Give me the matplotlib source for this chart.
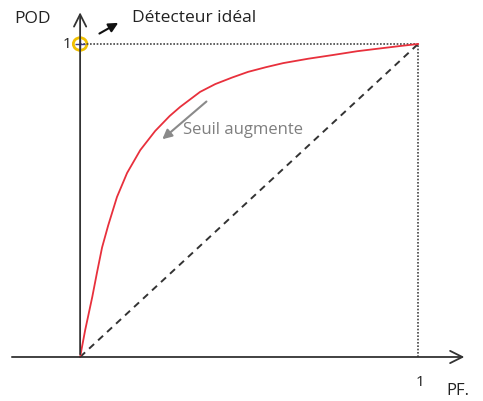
import matplotlib.pyplot as plt
from matplotlib.patches import Circle

# ROC curve (PF, POD)
pf = [0, 0.015, 0.036, 0.050, 0.065, 0.083, 0.109, 0.139, 0.178, 0.222, 0.265, 0.296,
      0.355, 0.40, 0.45, 0.497, 0.55, 0.601, 0.675, 0.749, 0.82, 0.896, 0.95, 1.0]
pod = [0, 0.086, 0.192, 0.270, 0.350, 0.420, 0.511, 0.588, 0.661, 0.722, 0.770, 0.799,
       0.847, 0.872, 0.893, 0.911, 0.926, 0.939, 0.953, 0.965, 0.977, 0.987, 0.994, 1.0]
diag = [0, 1]

fig = plt.figure(figsize=(4.83, 4.01), dpi=100)
ax = fig.add_axes([0, 0, 1, 1])
ax.set_xlim(-0.237, 1.192)
ax.set_ylim(-0.1406, 1.1406)
ax.axis('off')

font = 'Open Sans'

# axes with open arrow heads
ax.annotate('', xy=(1.145, 0), xytext=(-0.21, 0),
            arrowprops=dict(arrowstyle='->', color='#333333', lw=1.3, mutation_scale=22))
ax.annotate('', xy=(0, 1.11), xytext=(0, 0),
            arrowprops=dict(arrowstyle='->', color='#333333', lw=1.3, mutation_scale=22))

# dotted frame to (1,1)
ax.plot([0, 1], [1, 1], color='#444444', lw=1.2, linestyle=(0, (1, 1)))
ax.plot([1, 1], [0, 1], color='#444444', lw=1.2, linestyle=(0, (1, 1)))

# diagonal
ax.plot(diag, diag, color='#333333', lw=1.4, linestyle=(0, (3.5, 2.8)))

# ROC curve
ax.plot(pf, pod, color='#e8303c', lw=1.3, solid_joinstyle='round')

# ideal detector
ax.add_patch(Circle((0, 1), 0.02, fill=False, edgecolor='#f0c000', lw=2))
ax.plot([0], [1], marker='+', color='#3a3a8a', ms=7, mew=1)
ax.annotate('', xy=(0.12, 1.072), xytext=(0.05, 1.029),
            arrowprops=dict(arrowstyle='-|>', color='#111111', lw=1.5, mutation_scale=14))
ax.text(0.155, 1.083, 'Détecteur idéal', fontsize=12.5, family=font, color='#222222',
        va='center', ha='left')

# labels
ax.text(-0.195, 1.08, 'POD', fontsize=12.5, family=font, color='#222222', va='center', ha='left')
ax.text(-0.026, 0.997, '1', fontsize=11, family=font, color='#222222', va='center', ha='right')
ax.text(1.005, -0.083, '1', fontsize=11, family=font, color='#222222', va='center', ha='center')
ax.text(1.118, -0.11, 'PF.', fontsize=12, family=font, color='#222222', va='center', ha='center')

# threshold arrow
ax.annotate('', xy=(0.237, 0.69), xytext=(0.38, 0.822),
            arrowprops=dict(arrowstyle='-|>', color='#8a8a8a', lw=1.5, mutation_scale=14))
ax.text(0.303, 0.725, 'Seuil augmente', fontsize=12, family=font, color='#7f7f7f',
        va='center', ha='left')

fig.savefig('out.png', dpi=100)
